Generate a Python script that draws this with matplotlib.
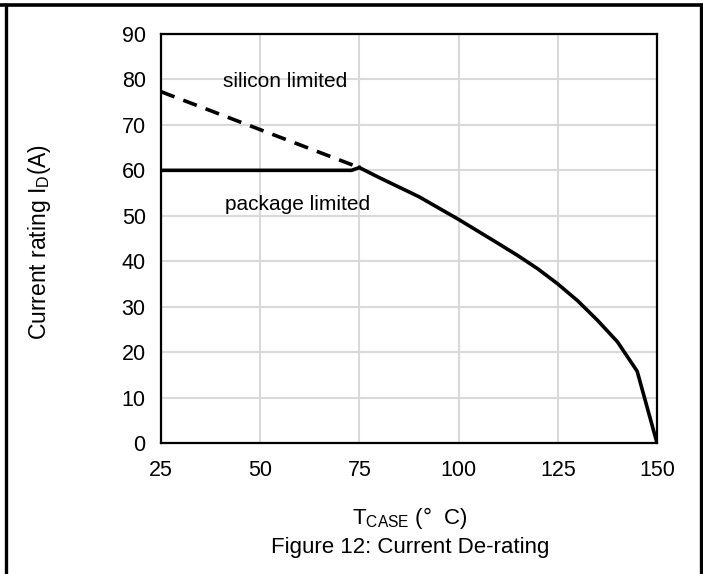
import matplotlib.pyplot as plt
from matplotlib.lines import Line2D

plt.rcParams['font.family'] = ['Liberation Sans', 'DejaVu Sans']
plt.rcParams['mathtext.default'] = 'regular'

# Dades llegides de la figura
t_silicon = [25, 75]
i_silicon = [77.3, 60.6]

t_package = [25, 73, 75]
i_package = [60.0, 60.0, 60.6]

t_derate = [75, 80, 85, 90, 100, 110, 115, 120, 125, 130, 135, 140, 145, 150]
i_derate = [60.6, 58.4, 56.3, 54.2, 49.2, 43.9, 41.2, 38.3, 35.0, 31.3, 27.0, 22.3, 15.8, 0.0]

x_ticks = [25, 50, 75, 100, 125, 150]
y_ticks = [0, 10, 20, 30, 40, 50, 60, 70, 80, 90]

W, H = 703, 574
fig = plt.figure(figsize=(W / 100, H / 100), dpi=100)
ax = fig.add_axes([161 / W, 1 - 443 / H, 496 / W, 409 / H])

ax.plot(t_silicon, i_silicon, color='black', lw=2.6, ls=(0, (4, 2.6)))
ax.plot(t_package, i_package, color='black', lw=2.6)
ax.plot(t_derate, i_derate, color='black', lw=2.6, solid_joinstyle='miter')

ax.set_xlim(25, 150)
ax.set_ylim(0, 90)
ax.set_xticks(x_ticks)
ax.set_yticks(y_ticks)
ax.tick_params(length=0, labelsize=15.5)
ax.tick_params(axis='x', pad=12)
ax.tick_params(axis='y', pad=11)
ax.grid(True, color='#d9d9d9', lw=1.5)
ax.set_axisbelow(True)
for s in ax.spines.values():
    s.set_linewidth(1.6)

ax.text(56.3, 79.5, 'silicon limited', fontsize=15, ha='center', va='center')
ax.text(59.5, 52.4, 'package limited', fontsize=15, ha='center', va='center')

fig.text(40 / W, 1 - 242 / H, 'Current rating I$_D$(A)', rotation=90,
         fontsize=16.5, ha='center', va='center')
fig.text(410 / W, 1 - 518 / H, 'T$_{CASE}$ (°  C)', fontsize=16,
         ha='center', va='center')
fig.text(410 / W, 1 - 548 / H, 'Figure 12: Current De-rating', fontsize=16,
         ha='center', va='center')

# Vores de la taula
fig.add_artist(Line2D([0, 1], [1 - 4.5 / H] * 2, color='black', lw=2.6))
fig.add_artist(Line2D([5.5 / W] * 2, [0, 1 - 4.5 / H], color='black', lw=2.4))
fig.add_artist(Line2D([701 / W] * 2, [0, 1 - 4.5 / H], color='black', lw=2.4))

fig.savefig('out.png', dpi=100)
